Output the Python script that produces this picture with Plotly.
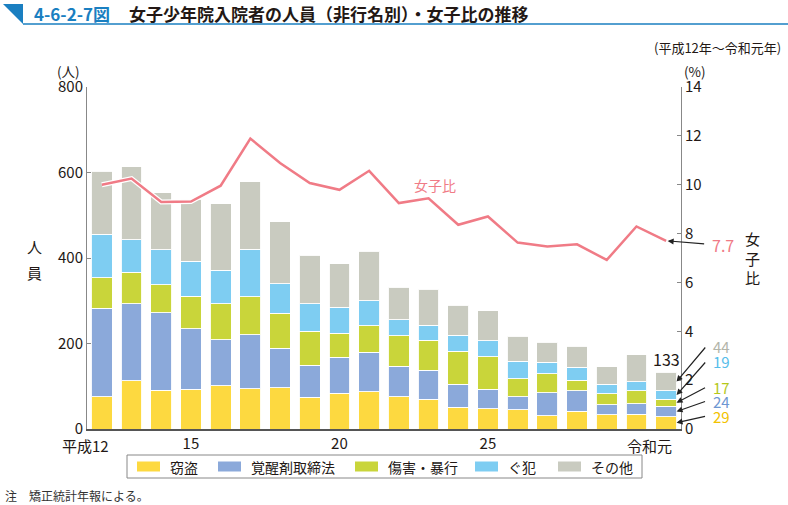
import plotly.graph_objects as go

# ---------------- data ----------------
years = ["平成12", "13", "14", "15", "16", "17", "18", "19", "20", "21",
         "22", "23", "24", "25", "26", "27", "28", "29", "30", "令和元"]
theft   = [76, 113, 91, 93, 101, 94, 96, 74, 84, 87, 75, 70, 51, 47, 45, 31, 42, 33, 35, 29]
drugs   = [206, 180, 181, 142, 108, 126, 93, 75, 84, 93, 72, 68, 54, 46, 30, 54, 47, 24, 24, 24]
assault = [72, 74, 65, 75, 84, 89, 82, 80, 56, 61, 71, 70, 77, 76, 43, 44, 25, 25, 30, 17]
guhan   = [101, 76, 82, 82, 78, 112, 69, 64, 61, 59, 38, 35, 37, 37, 41, 27, 30, 23, 21, 19]
other   = [148, 171, 134, 146, 156, 157, 145, 114, 102, 116, 76, 84, 70, 71, 58, 47, 49, 41, 64, 44]
ratio   = [10.0, 10.25, 9.29, 9.31, 9.96, 11.89, 10.89, 10.07, 9.79, 10.57,
           9.25, 9.44, 8.36, 8.7, 7.63, 7.47, 7.56, 6.92, 8.29, 7.7]

series_names = ["窃盗", "覚醒剤取締法", "傷害・暴行", "ぐ犯", "その他"]
series_vals = [theft, drugs, assault, guhan, other]
series_cols = ["#FDD940", "#8BA9DA", "#C9D53A", "#7ECDF2", "#C9CBC0"]
label_cols = ["#F2C200", "#6E97D2", "#B5C81A", "#55BDEA", "#B3B5AA"]

tick_idx = [3, 8, 13]
FONT = "Noto Sans CJK JP"
TXT = "#231815"

# layout geometry (pixels)
W, H = 788, 505
L, R, T, B = 87, 107, 87, 76
PW, PH = W - L - R, H - T - B


def px(x):
    return (x - L) / PW


def py(y):
    return (H - B - y) / PH


fig = go.Figure()
for name, vals, col in zip(series_names, series_vals, series_cols):
    fig.add_trace(go.Bar(
        x=years, y=vals, name=name, showlegend=False,
        marker=dict(color=col, line=dict(color="rgba(255,255,255,0.9)", width=1)),
    ))

fig.add_trace(go.Scatter(x=years, y=ratio, yaxis="y2", mode="lines",
                         line=dict(color="white", width=5), showlegend=False,
                         hoverinfo="skip"))
fig.add_trace(go.Scatter(x=years, y=ratio, yaxis="y2", mode="lines",
                         line=dict(color="#F07B86", width=2.5), showlegend=False,
                         name="女子比"))

fig.update_layout(
    width=W, height=H,
    margin=dict(l=L, r=R, t=T, b=B, pad=0),
    paper_bgcolor="white", plot_bgcolor="white",
    barmode="stack", bargap=0.3,
    font=dict(family=FONT, size=15, color=TXT),
    xaxis=dict(
        type="category", range=[-0.5, 19.5],
        tickvals=[years[i] for i in tick_idx],
        ticktext=[years[i] for i in tick_idx],
        ticks="", showline=True, linecolor="#555555", linewidth=1.5,
        showgrid=False, tickfont=dict(size=15),
    ),
    yaxis=dict(
        range=[0, 800], tickvals=[0, 200, 400, 600, 800],
        ticks="inside", ticklen=4, tickcolor="#888888",
        showline=True, linecolor="#888888", linewidth=1,
        showgrid=False, zeroline=False, tickfont=dict(size=15),
    ),
    yaxis2=dict(
        range=[0, 14], tickvals=[0, 2, 4, 6, 8, 10, 12, 14],
        overlaying="y", side="right",
        ticks="inside", ticklen=4, tickcolor="#888888",
        showline=True, linecolor="#888888", linewidth=1,
        showgrid=False, zeroline=False, tickfont=dict(size=15),
    ),
    showlegend=False,
)

ann = []
shapes = []


def text(x, y, s, size=15, color=TXT, xanchor="center", **kw):
    ann.append(dict(x=px(x), y=py(y), xref="paper", yref="paper", text=s,
                    showarrow=False, font=dict(size=size, color=color, family=FONT),
                    xanchor=xanchor, yanchor="middle", **kw))


# header
text(32, 13, "<b>4-6-2-7図</b>", size=17, color="#1A7FC1", xanchor="left")
text(127, 13, "<b>女子少年院入院者の人員（非行名別）・女子比の推移</b>", size=17, xanchor="left")
text(783, 47, "(平成12年～令和元年)", size=13, xanchor="right")
text(68, 71, "(人)", size=13.5)
text(695, 71, "(%)", size=13.5)
text(34, 246, "人", size=15)
text(34, 272, "員", size=15)
text(752, 258, "女<br>子<br>比", size=15)
text(3, 495, "注　矯正統計年報による。", size=12, color="#333333", xanchor="left")
text(435, 185, "女子比", size=14, color="#F07B86")

# custom x labels for first/last categories
ann.append(dict(x=years[0], y=0, xref="x", yref="y", text="平成12", showarrow=False,
                xanchor="right", yanchor="top", xshift=9, yshift=-4,
                font=dict(size=15, color=TXT, family=FONT)))
ann.append(dict(x=years[-1], y=0, xref="x", yref="y", text="令和元", showarrow=False,
                xanchor="right", yanchor="top", xshift=8, yshift=-4,
                font=dict(size=15, color=TXT, family=FONT)))

# total of last bar
last_total = sum(v[-1] for v in series_vals)
ann.append(dict(x=years[-1], y=last_total, xref="x", yref="y", text=str(last_total),
                showarrow=False, yanchor="bottom", yshift=-1,
                font=dict(size=16, color=TXT, family=FONT)))

# segment labels of last bar with arrows
label_y = [416, 401, 387, 361, 346]
cum = 0
for vals, col, ly in zip(series_vals, label_cols, label_y):
    v = vals[-1]
    mid = cum + v / 2
    cum += v
    head_px = H - B - mid * PH / 800
    ann.append(dict(x=19.35, y=mid, xref="x", yref="y", text="", showarrow=True,
                    arrowhead=2, arrowsize=1, arrowwidth=1.2, arrowcolor="#222222",
                    ax=707 - 677, ay=ly - head_px))
    text(721, ly, str(v), size=15, color=col)

# ratio last value
r_head = H - B - ratio[-1] * PH / 14
ann.append(dict(x=19.05, y=ratio[-1], xref="x", yref="y2", text="", showarrow=True,
                arrowhead=2, arrowsize=1, arrowwidth=1.2, arrowcolor="#222222",
                ax=708 - 670, ay=244 - r_head))
text(723, 245, str(ratio[-1]), size=16, color="#F07B86")

# legend (drawn box)
leg_swatch_x = [137, 218, 355, 475, 558]
shapes.append(dict(type="rect", xref="paper", yref="paper",
                   x0=px(127), x1=px(642), y0=py(455), y1=py(478),
                   line=dict(color="#888888", width=1), fillcolor="white"))
for sx, name, col in zip(leg_swatch_x, series_names, series_cols):
    shapes.append(dict(type="rect", xref="paper", yref="paper",
                       x0=px(sx), x1=px(sx + 23), y0=py(461.5), y1=py(471.5),
                       line=dict(width=0), fillcolor=col))
    text(sx + 31, 466.5, name, size=14, xanchor="left")

# title decoration
shapes.append(dict(type="path", xref="paper", yref="paper",
                   path=f"M {px(3)},{py(4)} L {px(23)},{py(4)} L {px(23)},{py(24)} Z",
                   fillcolor="#1A7FC1", line=dict(width=0)))
shapes.append(dict(type="line", xref="paper", yref="paper",
                   x0=px(23), x1=px(788), y0=py(24), y1=py(24),
                   line=dict(color="#1A7FC1", width=1.5)))

fig.update_layout(annotations=ann, shapes=shapes)

fig.write_html("out.html")
